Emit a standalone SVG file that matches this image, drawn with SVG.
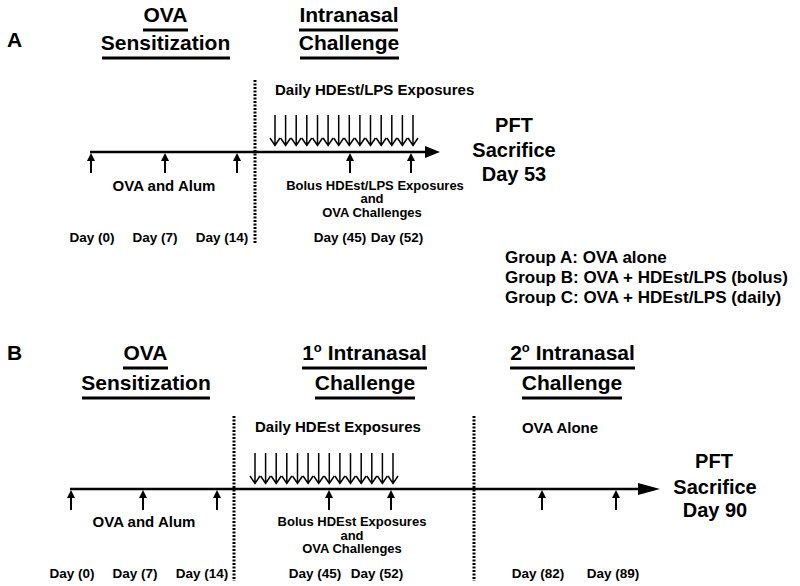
<svg xmlns="http://www.w3.org/2000/svg" xmlns:xlink="http://www.w3.org/1999/xlink" width="800" height="586" viewBox="0 0 800 586">
<style>
text{font-family:"Liberation Sans",Arial,sans-serif;font-weight:bold;fill:#000}
.h{font-size:21px;text-anchor:middle}
.p{font-size:20px;text-anchor:middle}
.lab{font-size:21px}
.m{font-size:15px}
.s{font-size:13.5px;text-anchor:middle}
.b{font-size:13px;text-anchor:middle}
.g{font-size:17px}
.ul{stroke:#000;stroke-width:3}
.ax{stroke:#000;stroke-width:2.5}
.dot{stroke:#000;stroke-width:3;stroke-dasharray:2 1.5}
.da{fill:none;stroke:#000;stroke-width:1.5}
.ua{stroke:#000;stroke-width:2}
</style>
<defs>
<path id="da" class="da" d="M0,0 V30 M-5,23 L0,30.5 L5,23"/>
<g id="ua"><line x1="0" y1="5" x2="0" y2="20" class="ua"/><polygon points="-4,8 0,0 4,8" fill="#000"/></g>
</defs>

<!-- Panel A -->
<g id="panelA-label"><text class="lab" x="7" y="47">A</text></g>
<g id="A-sens">
<text class="h" x="165.5" y="22">OVA</text>
<line class="ul" x1="143" y1="30" x2="188" y2="30"/>
<text class="h" x="165.5" y="50">Sensitization</text>
<line class="ul" x1="102" y1="58" x2="230" y2="58"/>
</g>
<g id="A-chal">
<text class="h" x="349" y="22">Intranasal</text>
<line class="ul" x1="299" y1="30" x2="398" y2="30"/>
<text class="h" x="349" y="50">Challenge</text>
<line class="ul" x1="300" y1="58" x2="399" y2="58"/>
</g>
<g id="A-daily"><text class="m" x="275" y="95">Daily HDEst/LPS Exposures</text></g>
<g id="A-end">
<text class="p" x="514" y="132">PFT</text>
<text class="p" x="514" y="157">Sacrifice</text>
<text class="p" x="514" y="181">Day 53</text>
</g>
<g id="A-alum"><text class="m" x="164" y="191" text-anchor="middle">OVA and Alum</text></g>
<g id="A-bolus">
<text class="b" x="375" y="189.5">Bolus HDEst/LPS Exposures</text>
<text class="b" x="372" y="203">and</text>
<text class="b" x="372" y="216.5">OVA Challenges</text>
</g>
<g id="A-days">
<text class="s" x="92" y="242">Day (0)</text>
<text class="s" x="155" y="242">Day (7)</text>
<text class="s" x="222" y="242">Day (14)</text>
<text class="s" x="340" y="242">Day (45)</text>
<text class="s" x="397" y="242">Day (52)</text>
</g>
<g id="groups">
<text class="g" x="505" y="263">Group A: OVA alone</text>
<text class="g" x="505" y="283">Group B: OVA + HDEst/LPS (bolus)</text>
<text class="g" x="505" y="303">Group C: OVA + HDEst/LPS (daily)</text>
</g>

<!-- Panel B -->
<g id="panelB-label"><text class="lab" x="7" y="360">B</text></g>
<g id="B-sens">
<text class="h" x="145.5" y="360">OVA</text>
<line class="ul" x1="123" y1="368" x2="168" y2="368"/>
<text class="h" x="146" y="390">Sensitization</text>
<line class="ul" x1="82" y1="398" x2="210" y2="398"/>
</g>
<g id="B-chal1">
<text class="h" x="364.5" y="360">1<tspan font-size="13" dy="-8">o</tspan><tspan dy="8"> Intranasal</tspan></text>
<line class="ul" x1="302" y1="368" x2="427" y2="368"/>
<text class="h" x="365" y="390">Challenge</text>
<line class="ul" x1="315" y1="398" x2="415" y2="398"/>
</g>
<g id="B-chal2">
<text class="h" x="572.5" y="360">2<tspan font-size="13" dy="-8">o</tspan><tspan dy="8"> Intranasal</tspan></text>
<line class="ul" x1="510" y1="368" x2="635" y2="368"/>
<text class="h" x="572" y="390">Challenge</text>
<line class="ul" x1="522" y1="398" x2="622" y2="398"/>
</g>
<g id="B-daily"><text class="m" x="255" y="432">Daily HDEst Exposures</text></g>
<g id="B-ovaalone"><text class="m" x="560" y="433" text-anchor="middle">OVA Alone</text></g>
<g id="B-end">
<text class="p" x="714" y="468">PFT</text>
<text class="p" x="715" y="494">Sacrifice</text>
<text class="p" x="715" y="517">Day 90</text>
</g>
<g id="B-alum"><text class="m" x="144" y="527" text-anchor="middle">OVA and Alum</text></g>
<g id="B-bolus">
<text class="b" x="352" y="526">Bolus HDEst Exposures</text>
<text class="b" x="352" y="539.5">and</text>
<text class="b" x="352" y="553">OVA Challenges</text>
</g>
<g id="B-days">
<text class="s" x="72" y="578">Day (0)</text>
<text class="s" x="135" y="578">Day (7)</text>
<text class="s" x="202" y="578">Day (14)</text>
<text class="s" x="315" y="578">Day (45)</text>
<text class="s" x="377" y="578">Day (52)</text>
<text class="s" x="538" y="578">Day (82)</text>
<text class="s" x="613" y="578">Day (89)</text>
</g>

<g id="connectors">
<!-- Panel A -->
<line class="dot" x1="255" y1="80" x2="255" y2="244"/>
<line class="ax" x1="90" y1="152" x2="428" y2="152"/>
<polygon points="425,146 440,152 425,158" fill="#000"/>
<use xlink:href="#ua" x="91" y="153"/>
<use xlink:href="#ua" x="165" y="153"/>
<use xlink:href="#ua" x="237" y="153"/>
<use xlink:href="#ua" x="350" y="153"/>
<use xlink:href="#ua" x="411" y="153"/>
<use xlink:href="#da" x="275" y="115"/>
<use xlink:href="#da" x="285.6" y="115"/>
<use xlink:href="#da" x="296.2" y="115"/>
<use xlink:href="#da" x="306.8" y="115"/>
<use xlink:href="#da" x="317.5" y="115"/>
<use xlink:href="#da" x="328.1" y="115"/>
<use xlink:href="#da" x="338.7" y="115"/>
<use xlink:href="#da" x="349.3" y="115"/>
<use xlink:href="#da" x="359.9" y="115"/>
<use xlink:href="#da" x="370.5" y="115"/>
<use xlink:href="#da" x="381.2" y="115"/>
<use xlink:href="#da" x="391.8" y="115"/>
<use xlink:href="#da" x="402.4" y="115"/>
<use xlink:href="#da" x="413" y="115"/>
<!-- Panel B -->
<line class="dot" x1="234" y1="416" x2="234" y2="581"/>
<line class="dot" x1="474" y1="416" x2="474" y2="581"/>
<line class="ax" x1="70" y1="489" x2="642" y2="489"/>
<polygon points="638,483 660,489 638,495" fill="#000"/>
<use xlink:href="#ua" x="71" y="490"/>
<use xlink:href="#ua" x="143" y="490"/>
<use xlink:href="#ua" x="217" y="490"/>
<use xlink:href="#ua" x="329" y="490"/>
<use xlink:href="#ua" x="391" y="490"/>
<use xlink:href="#ua" x="542" y="490"/>
<use xlink:href="#ua" x="616" y="490"/>
<use xlink:href="#da" x="255" y="453"/>
<use xlink:href="#da" x="265.6" y="453"/>
<use xlink:href="#da" x="276.2" y="453"/>
<use xlink:href="#da" x="286.8" y="453"/>
<use xlink:href="#da" x="297.5" y="453"/>
<use xlink:href="#da" x="308.1" y="453"/>
<use xlink:href="#da" x="318.7" y="453"/>
<use xlink:href="#da" x="329.3" y="453"/>
<use xlink:href="#da" x="339.9" y="453"/>
<use xlink:href="#da" x="350.5" y="453"/>
<use xlink:href="#da" x="361.2" y="453"/>
<use xlink:href="#da" x="371.8" y="453"/>
<use xlink:href="#da" x="382.4" y="453"/>
<use xlink:href="#da" x="393" y="453"/>
</g>
</svg>
